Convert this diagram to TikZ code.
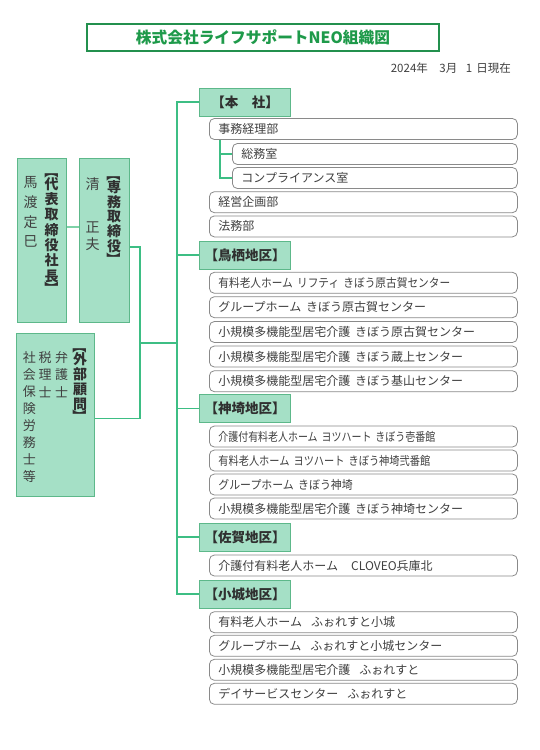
\documentclass[tikz,border=0pt]{standalone}
\usepackage{fontspec}
\usepackage{graphicx}
\setmainfont{Noto Sans CJK JP}
\usetikzlibrary{calc}
\definecolor{boxfill}{HTML}{A5E0C6}
\definecolor{boxline}{HTML}{5DB88A}
\definecolor{conn}{HTML}{3DBE84}
\definecolor{connlight}{HTML}{7ED2A8}
\definecolor{titlegreen}{HTML}{1E9A4A}
\definecolor{titleline}{HTML}{23904E}
\definecolor{txt}{HTML}{404040}
\definecolor{boldtxt}{HTML}{303030}
\definecolor{itemline}{HTML}{8A8A8A}
\newcommand{\sgap}{\hspace{0.4em}}
\newcommand{\bgap}{\hspace{0.75em}}
\newcommand{\narrow}[2]{\scalebox{#1}[1]{#2}}
\tikzset{
  item/.style={draw=itemline, line width=0.8pt, rounded corners=5pt, minimum height=21pt,
    inner xsep=9pt, inner ysep=0pt, text width=290pt, align=left, anchor=west,
    font=\fontsize{12}{14}\selectfont, text=txt},
  subitem/.style={item, text width=267pt},
  head/.style={draw=boxline, fill=boxfill, line width=1pt, minimum width=91pt, minimum height=28pt,
    anchor=west, font=\fontsize{13.5}{16}\selectfont\bfseries, text=boldtxt, inner sep=0pt},
  link/.style={draw=conn, line width=1.3pt},
  vbox/.style={draw=boxline, fill=boxfill, line width=1pt, anchor=north west, inner sep=0pt},
  vb/.style={font=\fontsize{14}{14}\selectfont\bfseries, text=boldtxt, inner sep=0pt},
  vn/.style={font=\fontsize{14}{14}\selectfont, text=txt, inner sep=0pt},
  vs/.style={font=\fontsize{13}{13}\selectfont, text=txt, inner sep=0pt},
}
\begin{document}
\begin{tikzpicture}[x=1pt, y=-1pt]
\useasboundingbox[fill=white] (0,0) rectangle (540,750);

% title and date
\node[draw=titleline, line width=2pt, minimum width=352pt, minimum height=27pt, inner sep=0pt,
  font=\fontsize{15.7}{18}\selectfont\bfseries, text=titlegreen] (title) at (263,37) {株式会社ライフサポートNEO組織図};
\node[anchor=east, font=\fontsize{11.5}{13}\selectfont, text=txt, inner sep=0pt] (date) at (511,68.5) {2024年\hspace{1em}3月\hspace{0.75em}1\hspace{0.35em}日現在};

% executive boxes
\node[vbox, minimum width=49.5pt, minimum height=163.5pt] (pres) at (16.5,158.2) {};
\node[vbox, minimum width=50pt, minimum height=163.5pt] (sen) at (78.5,158.2) {};
\node[vbox, minimum width=77.5pt, minimum height=163.5pt] (gai) at (16.3,332.5) {};

% president column
\node[vb, rotate=-90] (presBa) at (51.5,171.5) {【};
\foreach \c [count=\i from 0] in {代,表,取,締,役,社,長}
  \node[vb] (presT\i) at ({51.5},{184+\i*15.33}) {\c};
\node[vb, rotate=-90] (presBb) at (51.5,288) {】};
\foreach \c [count=\i from 0] in {馬,渡,定,巳}
  \node[vn] (presN\i) at ({30.7},{183+\i*19.5}) {\c};

% senmu column
\node[vb, rotate=-90] (senBa) at (114,174.5) {【};
\foreach \c [count=\i from 0] in {専,務,取,締,役}
  \node[vb] (senT\i) at ({114},{187+\i*14.8}) {\c};
\node[vb, rotate=-90] (senBb) at (114,259) {】};
\node[vn] (senN0) at (92.7,184) {清};
\node[vn] (senN1) at (92.7,227) {正};
\node[vn] (senN2) at (92.7,244) {夫};

% gaibu column
\node[vb, rotate=-90] (gaiBa) at (80,346.5) {【};
\foreach \c [count=\i from 0] in {外,部,顧,問}
  \node[vb] (gaiT\i) at ({80},{359+\i*15.2}) {\c};
\node[vb, rotate=-90] (gaiBb) at (80,416.5) {】};
\foreach \c [count=\i from 0] in {弁,護,士}
  \node[vs] (gaiA\i) at ({61.7},{358+\i*16.9}) {\c};
\foreach \c [count=\i from 0] in {税,理,士}
  \node[vs] (gaiB\i) at ({45},{358+\i*16.9}) {\c};
\foreach \c [count=\i from 0] in {社,会,保,険,労,務,士,等}
  \node[vs] (gaiC\i) at ({29.3},{358+\i*16.9}) {\c};

% headings
\node[head] (hq) at (199,102) {【本　社】};
\node[head] (tosu) at (199,255) {【鳥栖地区】};
\node[head] (kan) at (199,408.5) {【神埼地区】};
\node[head] (saga) at (199,537) {【佐賀地区】};
\node[head] (ogi) at (199,594) {【小城地区】};

% items
\node[item] (hq1) at (209,129) {事務経理部};
\node[subitem] (hq2) at (232,154) {総務室};
\node[subitem] (hq3) at (232,178) {コンプライアンス室};
\node[item] (hq4) at (209,202.2) {経営企画部};
\node[item] (hq5) at (209,226.4) {法務部};

\node[item] (t1) at (209,282.8) {\narrow{0.89}{有料老人ホーム\sgap リフティ\sgap きぼう原古賀センター}};
\node[item] (t2) at (209,307.2) {グループホーム\sgap きぼう原古賀センター};
\node[item] (t3) at (209,332) {小規模多機能型居宅介護\sgap きぼう原古賀センター};
\node[item] (t4) at (209,356.5) {小規模多機能型居宅介護\sgap きぼう蔵上センター};
\node[item] (t5) at (209,381.2) {小規模多機能型居宅介護\sgap きぼう基山センター};

\node[item] (k1) at (209,436.5) {\narrow{0.83}{介護付有料老人ホーム\sgap ヨツハート\sgap きぼう壱番館}};
\node[item] (k2) at (209,460.5) {\narrow{0.85}{有料老人ホーム\sgap ヨツハート\sgap きぼう神埼弐番館}};
\node[item] (k3) at (209,484.5) {\narrow{0.91}{グループホーム\sgap きぼう神埼}};
\node[item] (k4) at (209,508.5) {小規模多機能型居宅介護\sgap きぼう神埼センター};

\node[item] (s1) at (209,565.5) {介護付有料老人ホーム\hspace{1.1em}CLOVEO兵庫北};

\node[item] (o1) at (209,622.2) {有料老人ホーム\bgap ふぉれすと小城};
\node[item] (o2) at (209,645.8) {グループホーム\bgap ふぉれすと小城センター};
\node[item] (o3) at (209,669.8) {小規模多機能型居宅介護\bgap ふぉれすと};
\node[item] (o4) at (209,693.8) {デイサービスセンター\bgap ふぉれすと};

% connectors
\coordinate (trunkx) at (177,0);
\coordinate (subx) at (220,0);
\coordinate (c1) at (0,227);
\coordinate (j1) at (140,247);
\coordinate (j2) at (140,418.5);
\coordinate (j3) at (140,343);

\draw[draw=connlight, line width=1.5pt] (pres.east |- c1) -- (sen.west |- c1);
\draw[link] (sen.east |- j1) -- (j1) -- (j2) -- (gai.east |- j2);
\draw[link] (j3) -- (j3 -| trunkx);
\draw[link] (hq.west) -- (hq.west -| trunkx) -- (ogi.west -| trunkx) -- (ogi.west);
\draw[link] (tosu.west) -- (tosu.west -| trunkx);
\draw[link] (kan.west) -- (kan.west -| trunkx);
\draw[link] (saga.west) -- (saga.west -| trunkx);
\draw[link] (hq1.south -| subx) -- (hq3.west -| subx) -- (hq3.west);
\draw[link] (hq2.west -| subx) -- (hq2.west);
\end{tikzpicture}
\end{document}
